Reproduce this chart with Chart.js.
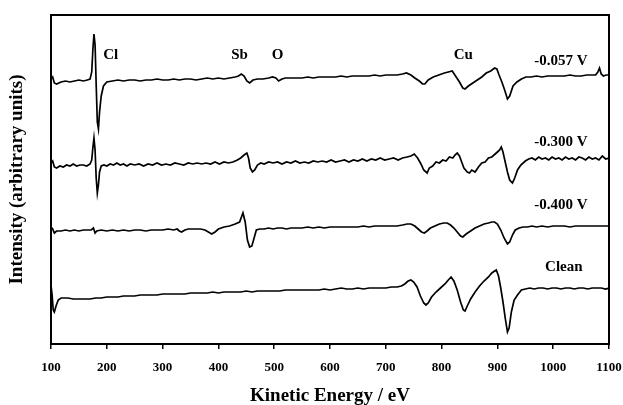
<!DOCTYPE html>
<html>
<head>
<meta charset="utf-8">
<script src="https://cdn.jsdelivr.net/npm/chart.js@4"></script>
<style>
  html, body { margin: 0; padding: 0; background: #fff; }
  #wrap { width: 623px; height: 405px; }
</style>
</head>
<body>
<div id="wrap"><canvas id="auger"></canvas></div>
<script>
// Auger spectra, kinetic energy (eV) vs intensity (arbitrary units)
const energyTicks = [100, 200, 300, 400, 500, 600, 700, 800, 900, 1000, 1100];

// -0.057 V
const energy057 = [100,103,106,110,118,126,134,142,150,158,165,170,173,175,177,179,181,183,185,187,190,194,200,210,220,230,240,250,260,270,280,290,300,310,320,330,340,350,360,370,380,390,400,410,420,430,436,441,446,451,456,462,470,480,490,497,503,508,514,520,530,540,550,560,570,580,590,600,610,620,630,640,650,660,670,680,690,700,710,720,730,737,745,752,760,766,770,776,785,795,805,812,819,825,832,838,842,848,856,864,872,880,888,895,899,903,908,913,918,922,928,935,943,951,960,970,980,990,1000,1010,1020,1030,1040,1050,1060,1070,1076,1080,1083,1086,1090,1095,1100];
const int057 = [265,267,261,260,262,263,262,263,264,263,264,265,272,294,310,299,259,222,215,232,248,258,262,263,264,263,264,264,263,264,264,265,264,264,265,264,265,265,264,265,266,265,266,265,266,267,268,270,268,263,261,264,265,265,266,267,266,263,265,266,266,266,266,267,266,267,267,267,267,268,267,268,268,268,268,269,268,269,269,269,270,271,269,266,263,260,260,264,267,269,271,272,273,268,262,256,255,258,261,264,267,271,273,276,275,269,262,254,245,248,258,262,265,267,267,268,267,268,268,268,268,269,268,268,269,269,269,272,276,270,268,269,269];

// -0.300 V
const energy300 = [100,103,106,110,116,122,128,134,140,146,152,158,164,170,173,175,177,179,181,183,185,187,190,195,200,206,212,218,224,230,236,242,250,258,266,274,282,290,298,306,314,322,330,338,346,354,362,370,378,386,394,402,410,418,426,434,440,446,451,454,457,461,465,470,476,482,490,498,506,514,522,530,538,546,554,562,570,578,586,594,602,610,618,626,634,642,650,658,666,674,682,690,698,706,714,722,730,738,745,751,757,763,768,774,778,784,790,796,802,808,814,820,824,828,832,836,840,846,850,854,860,866,872,878,884,890,896,900,904,907,910,914,918,922,927,931,936,942,950,956,962,968,974,980,986,992,998,1004,1010,1016,1022,1028,1034,1040,1046,1052,1058,1064,1070,1076,1082,1088,1094,1100];
const int300 = [181,183,177,176,178,177,179,178,180,178,179,179,178,180,184,196,206,194,166,151,159,172,178,179,178,180,179,181,179,180,178,180,179,180,178,180,179,181,179,180,179,181,180,179,181,180,181,180,181,180,182,180,182,181,182,184,186,189,191,186,176,172,174,179,181,180,182,181,182,180,182,181,183,181,182,181,183,182,183,182,184,182,183,184,182,184,183,185,183,185,184,186,184,185,186,184,186,187,188,190,186,180,174,171,176,178,182,181,184,183,187,186,189,191,188,182,176,172,171,174,172,177,181,182,186,187,190,192,194,197,192,182,172,164,161,166,174,179,183,185,186,184,187,185,186,184,187,185,186,184,187,185,186,184,187,186,184,187,185,186,184,188,185,186];

// -0.400 V
const energy400 = [100,103,106,110,118,126,134,142,150,158,166,172,176,179,182,190,200,210,220,230,240,250,260,270,280,290,300,310,320,326,330,334,340,346,352,360,368,376,382,388,394,400,410,420,430,438,444,448,452,456,460,464,468,474,482,490,498,506,514,522,530,540,550,560,570,580,590,600,610,620,630,640,650,660,670,680,690,700,710,720,730,738,745,752,758,764,769,774,780,788,796,804,810,816,822,828,834,838,844,852,860,868,876,884,890,895,900,906,912,918,922,927,932,939,946,954,962,970,980,990,1000,1010,1020,1030,1040,1050,1060,1070,1080,1090,1100];
const int400 = [117,115,111,113,113,114,113,114,113,114,114,114,116,111,113,114,113,114,113,114,113,114,114,113,114,114,114,115,114,115,113,112,114,115,115,115,115,114,112,110,112,115,117,118,120,122,131,122,104,97,98,106,114,115,115,116,115,116,116,115,116,116,116,117,116,117,116,117,117,117,117,117,117,118,117,118,118,118,118,118,119,120,120,118,115,112,111,113,116,118,120,121,121,119,116,112,108,107,110,113,116,118,120,121,122,122,120,114,106,100,102,109,114,116,117,117,118,117,118,117,118,118,118,117,118,118,118,118,118,118,118];

// Clean
const energyClean = [100,102,104,106,109,113,118,124,130,140,150,160,170,180,190,200,210,220,230,240,250,260,270,280,290,300,310,320,330,340,350,360,370,380,390,400,410,420,430,440,450,460,470,480,490,500,510,520,530,540,550,560,570,580,590,600,610,620,630,640,650,660,670,680,690,700,710,720,728,734,740,745,750,756,762,768,772,776,782,790,798,806,812,817,822,828,834,839,842,846,852,860,868,876,884,890,895,898,902,906,910,914,918,921,925,930,936,943,950,958,966,974,982,990,998,1006,1014,1022,1030,1038,1046,1054,1062,1070,1078,1086,1094,1100];
const intClean = [59,49,34,32,38,44,46,46,46,45,45,45,45,46,46,47,47,47,48,48,48,49,49,49,49,50,50,50,50,50,51,51,51,51,52,51,52,52,52,52,53,52,53,53,53,53,53,54,54,54,54,54,54,54,55,54,55,56,55,55,56,55,56,56,56,56,57,57,58,60,63,64,62,57,48,41,39,41,47,52,56,60,64,67,63,54,42,34,33,38,45,52,58,63,67,71,73,74,68,56,42,26,12,16,32,44,49,54,55,56,55,56,56,55,56,56,55,56,56,55,56,56,55,56,56,56,55,56];

// text annotations placed in data coordinates
const peakLabels = ['Cl', 'Sb', 'O', 'Cu'];
const peakEnergy = [207, 438, 506, 839];
const peakLevel = [289, 289, 289, 289];
const traceLabels = ['-0.057 V', '-0.300 V', '-0.400 V', 'Clean'];
const traceEnergy = [1014, 1014, 1014, 1019];
const traceLevel = [283, 202, 139, 77];

const serif = "'Liberation Serif', 'Times New Roman', serif";

function toPoints(xs, ys) {
  return xs.map((x, i) => ({ x, y: ys[i] }));
}

const frameAndText = {
  id: 'frameAndText',
  afterDatasetsDraw(chart) {
    const { ctx, chartArea: a, scales } = chart;
    ctx.save();
    ctx.strokeStyle = '#000';
    ctx.lineWidth = 2;
    ctx.strokeRect(a.left, a.top, a.right - a.left, a.bottom - a.top);
    ctx.fillStyle = '#000';
    ctx.font = 'bold 15px ' + serif;
    ctx.textAlign = 'center';
    ctx.textBaseline = 'middle';
    peakLabels.forEach((t, i) => {
      ctx.fillText(t, scales.x.getPixelForValue(peakEnergy[i]), scales.y.getPixelForValue(peakLevel[i]));
    });
    traceLabels.forEach((t, i) => {
      ctx.fillText(t, scales.x.getPixelForValue(traceEnergy[i]), scales.y.getPixelForValue(traceLevel[i]));
    });
    ctx.restore();
  }
};

const line = (data) => ({
  data,
  borderColor: '#000',
  borderWidth: 1.7,
  pointRadius: 0,
  tension: 0,
  fill: false,
});

new Chart(document.getElementById('auger'), {
  type: 'line',
  data: {
    datasets: [
      line(toPoints(energy057, int057)),
      line(toPoints(energy300, int300)),
      line(toPoints(energy400, int400)),
      line(toPoints(energyClean, intClean)),
    ],
  },
  options: {
    responsive: true,
    maintainAspectRatio: false,
    animation: false,
    layout: { padding: { top: 15, right: 14, left: 0, bottom: 0 } },
    plugins: { legend: { display: false }, tooltip: { enabled: false } },
    scales: {
      x: {
        type: 'linear',
        min: 100,
        max: 1100,
        afterBuildTicks: (s) => { s.ticks = energyTicks.map(v => ({ value: v })); },
        afterFit: (s) => {
          s.height = 61;
          s.paddingLeft = 0;
          s.paddingRight = 0;
        },
        grid: { drawOnChartArea: false, drawTicks: true, tickLength: 5, color: '#000', lineWidth: 1.5 },
        border: { color: '#000', width: 2 },
        ticks: {
          color: '#000',
          padding: 11,
          maxRotation: 0,
          callback: (v) => String(v),
          font: { family: serif, size: 13, weight: 'bold' },
        },
        title: {
          display: true,
          text: 'Kinetic Energy / eV',
          color: '#000',
          font: { family: serif, size: 19, weight: 'bold', lineHeight: 0.9 },
          padding: { top: 0, bottom: 0 },
        },
      },
      y: {
        min: 0,
        max: 329,
        afterFit: (s) => { s.width = 51; },
        grid: { display: false },
        border: { display: false },
        ticks: { display: false },
        title: {
          display: true,
          text: 'Intensity (arbitrary units)',
          color: '#000',
          font: { family: serif, size: 19, weight: 'bold' },
          padding: { top: 6, bottom: 0 },
        },
      },
    },
  },
  plugins: [frameAndText],
});
</script>
</body>
</html>
